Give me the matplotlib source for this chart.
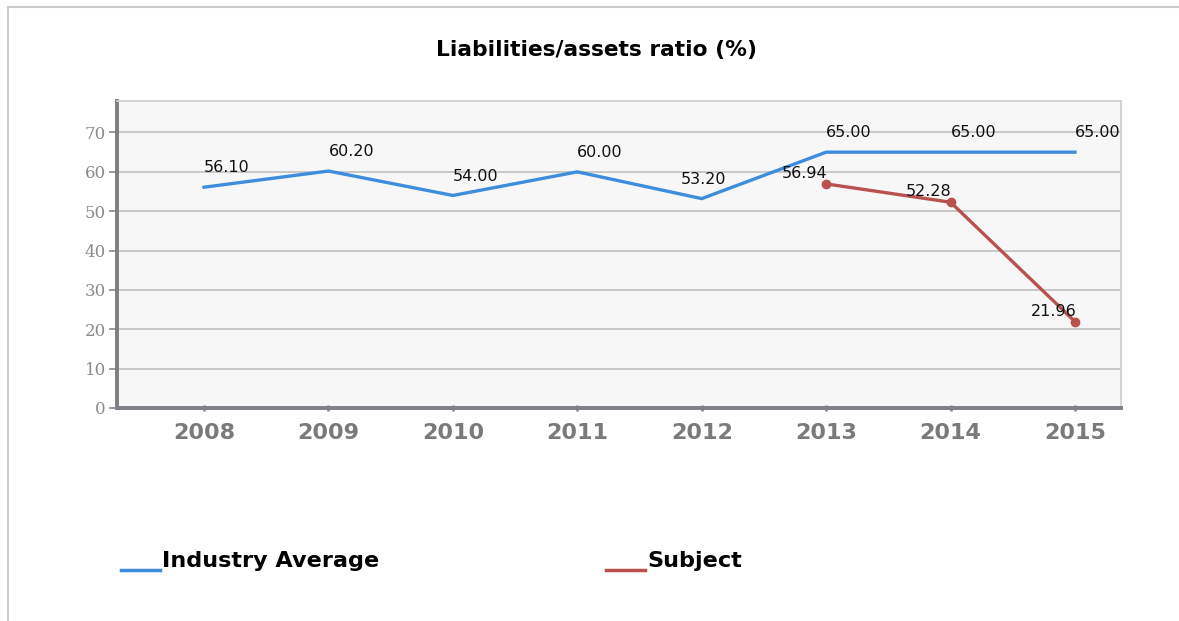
import matplotlib.pyplot as plt
from matplotlib.lines import Line2D

years = ["2008", "2009", "2010", "2011", "2012", "2013", "2014", "2015"]
industry = [56.10, 60.20, 54.00, 60.00, 53.20, 65.00, 65.00, 65.00]
subject_years = ["2013", "2014", "2015"]
subject = [56.94, 52.28, 21.96]

blue = "#3d8ddc"
red = "#b9524f"

fig = plt.figure(figsize=(11.79, 6.21), dpi=100)
ax = fig.add_axes([117 / 1179, 1 - 408 / 621, (1121 - 117) / 1179, (408 - 101) / 621])
ax.set_facecolor("#f7f7f7")

xi = list(range(len(years)))
xs = [years.index(y) for y in subject_years]

ax.plot(xi, industry, color=blue, lw=2.4, zorder=3, solid_joinstyle="miter")
ax.plot(xs, subject, color=red, lw=2.4, marker="o", ms=6, zorder=4)

# value labels
for x, v in zip(xi, industry):
    dx = -15 if x == 4 else 0
    ax.annotate(f"{v:.2f}", (x, v), xytext=(dx, 8.5), textcoords="offset points",
                ha="left", va="bottom", fontsize=11.5, color="#111111",
                fontfamily="DejaVu Sans", zorder=5, clip_on=True)
for x, v in zip(xs, subject):
    ax.annotate(f"{v:.2f}", (x, v), xytext=(1, 2), textcoords="offset points",
                ha="right", va="bottom", fontsize=11.5, color="#111111",
                fontfamily="DejaVu Sans", zorder=5)

ax.set_xlim(-0.70, 7.37)
ax.set_ylim(0, 78)
ax.set_xticks(xi)
ax.set_xticklabels(years, fontsize=16, fontweight="bold", color="#7a7a7a",
                   fontfamily="DejaVu Sans")
ax.set_yticks(range(0, 71, 10))
ax.set_yticklabels([str(v) for v in range(0, 71, 10)], fontsize=12, color="#8a8a8a",
                   fontfamily="DejaVu Serif")
ax.grid(axis="y", color="#c4c4c4", lw=1.3, zorder=1)
ax.set_axisbelow(True)

ax.tick_params(axis="y", length=6, width=1.2, color="#888888", pad=2)
ax.tick_params(axis="x", length=5, width=1.8, color="#808080", pad=8, direction="inout")

ax.spines["left"].set_color("#7f7f7f")
ax.spines["left"].set_linewidth(2.8)
ax.spines["bottom"].set_color("#7f7f87")
ax.spines["bottom"].set_linewidth(2.8)
ax.spines["bottom"].set_linestyle((0, (2, 0.6)))
ax.spines["top"].set_color("#d0d0d0")
ax.spines["top"].set_linewidth(1.3)
ax.spines["right"].set_color("#d0d0d0")
ax.spines["right"].set_linewidth(1.3)

fig.text(597 / 1179, 1 - 50 / 621, "Liabilities/assets ratio (%)", ha="center", va="center",
         fontsize=15.7, fontweight="bold", fontfamily="DejaVu Sans")

# legend
fig.add_artist(Line2D([121 / 1179, 160 / 1179], [1 - 570 / 621] * 2, color=blue, lw=2.5))
fig.text(162 / 1179, 1 - 561 / 621, "Industry Average", ha="left", va="center",
         fontsize=16.1, fontweight="bold", fontfamily="DejaVu Sans")
fig.add_artist(Line2D([606 / 1179, 645 / 1179], [1 - 570 / 621] * 2, color=red, lw=2.5))
fig.text(647 / 1179, 1 - 561 / 621, "Subject", ha="left", va="center",
         fontsize=16.1, fontweight="bold", fontfamily="DejaVu Sans")

# outer frame (top and left)
fig.add_artist(Line2D([8 / 1179, 1], [1 - 7 / 621] * 2, color="#cccccc", lw=1.5))
fig.add_artist(Line2D([8 / 1179] * 2, [0, 1 - 7 / 621], color="#cccccc", lw=1.5))

fig.savefig("out.png", dpi=100)
